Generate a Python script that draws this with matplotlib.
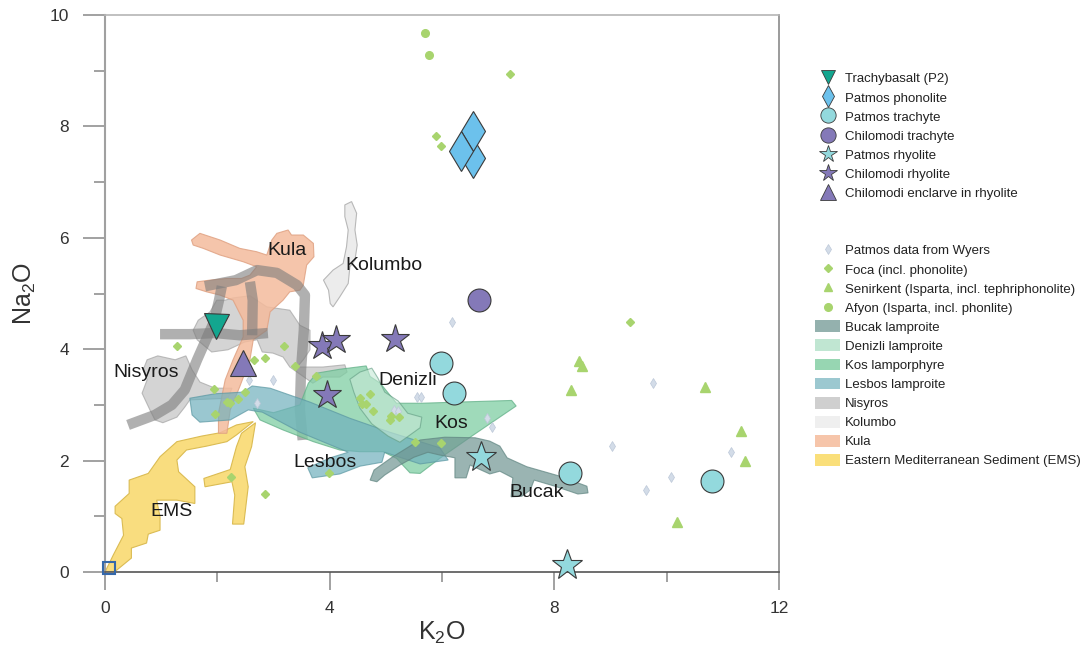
import numpy as np
import matplotlib.pyplot as plt
from matplotlib.lines import Line2D
from matplotlib.patches import Patch

plt.rcParams["font.family"] = ["Liberation Sans", "DejaVu Sans"]

# ---- samples (K2O, Na2O) ----
trachybasalt_k = [1.98]
trachybasalt_na = [4.42]
phonolite_k = [6.55, 6.55, 6.33]
phonolite_na = [7.43, 7.92, 7.55]
patmos_trachyte_k = [5.98, 6.22, 8.28, 10.81]
patmos_trachyte_na = [3.76, 3.22, 1.78, 1.64]
chilo_trachyte_k = [6.65]
chilo_trachyte_na = [4.88]
patmos_rhyolite_k = [6.69, 8.22]
patmos_rhyolite_na = [2.06, 0.13]
chilo_rhyolite_k = [3.86, 4.12, 5.16, 3.96]
chilo_rhyolite_na = [4.06, 4.16, 4.18, 3.18]
enclave_k = [2.45]
enclave_na = [3.75]
square_k = [0.08]
square_na = [0.08]

wyers_k = [9.75, 9.03, 11.14, 10.08, 9.64, 6.18, 5.56, 5.62, 5.14, 5.22, 6.80, 6.89, 2.57, 2.99, 2.70]
wyers_na = [3.39, 2.26, 2.16, 1.70, 1.48, 4.48, 3.14, 3.14, 2.91, 2.89, 2.77, 2.61, 3.45, 3.45, 3.03]
foca_k = [7.21, 5.89, 5.99, 9.35, 1.28, 2.65, 2.85, 3.19, 3.38, 3.76, 1.94, 2.17, 2.23, 2.36, 2.49,
          1.96, 2.24, 2.85, 4.54, 4.72, 4.57, 4.65, 4.77, 5.10, 5.07, 5.24, 5.52, 5.98, 3.98]
foca_na = [8.94, 7.83, 7.64, 4.48, 4.05, 3.81, 3.85, 4.06, 3.70, 3.51, 3.28, 3.06, 3.03, 3.10, 3.24,
           2.84, 1.71, 1.40, 3.12, 3.19, 3.01, 3.01, 2.89, 2.80, 2.73, 2.79, 2.34, 2.31, 1.77]
senirkent_k = [8.44, 8.50, 8.29, 10.69, 11.33, 11.40, 10.18]
senirkent_na = [3.78, 3.69, 3.27, 3.33, 2.53, 2.00, 0.89]
afyon_k = [5.70, 5.77]
afyon_na = [9.68, 9.28]

# ---- fields (outline vertices, K2O / Na2O) ----
ems_k = [0.00, 0.15, 0.33, 0.30, 0.18, 0.18, 0.43, 0.43, 0.77, 0.98, 1.28, 1.72, 2.05, 2.34, 2.64,
         2.34, 2.17, 1.81, 1.45, 1.28, 1.31, 1.60, 1.60, 1.28, 0.92, 0.98, 0.98, 0.77, 0.74, 0.47,
         0.47, 0.18]
ems_na = [0.00, 0.31, 0.66, 0.96, 1.05, 1.18, 1.41, 1.65, 1.77, 2.07, 2.34, 2.44, 2.50, 2.64, 2.70,
          2.46, 2.34, 2.26, 2.19, 2.01, 1.80, 1.53, 1.23, 1.29, 1.29, 0.99, 0.75, 0.68, 0.52, 0.43,
          0.25, 0.01]
ems2_k = [2.68, 2.61, 2.49, 2.55, 2.47, 2.27, 2.31, 2.26, 1.78, 1.76, 2.23, 2.34, 2.43]
ems2_na = [2.68, 2.25, 1.89, 1.53, 0.86, 0.86, 1.38, 1.62, 1.53, 1.68, 1.84, 2.25, 2.49]

kos_k = [2.64, 3.00, 3.47, 3.62, 3.77, 4.18, 4.65, 4.72, 4.90, 5.19, 5.64, 7.24, 7.32, 6.56, 5.96,
         5.61, 5.43, 5.19, 4.95, 4.54, 4.18, 3.71, 3.17, 2.76]
kos_na = [2.94, 2.86, 3.00, 3.39, 3.57, 3.64, 3.70, 3.51, 3.39, 3.03, 3.03, 3.08, 2.98, 2.46, 2.04,
          1.77, 1.78, 2.04, 2.16, 2.16, 2.19, 2.34, 2.55, 2.73]

denizli_k = [4.36, 4.54, 4.75, 4.86, 4.98, 5.22, 5.39, 5.64, 5.61, 5.25, 5.04, 4.75, 4.54, 4.43]
denizli_na = [3.46, 3.59, 3.66, 3.48, 3.23, 3.07, 2.85, 2.78, 2.59, 2.33, 2.44, 2.66, 2.94, 3.23]

lesbos_k = [1.51, 1.96, 2.46, 2.62, 2.94, 3.65, 4.36, 5.07, 5.96, 6.11, 5.61, 4.98, 4.93, 4.54,
            4.18, 3.69, 3.61, 4.01, 4.33, 3.47, 2.80, 2.55, 2.23, 1.69, 1.55]
lesbos_na = [3.12, 3.20, 3.23, 3.34, 3.30, 3.05, 2.76, 2.51, 2.23, 2.01, 1.94, 2.15, 1.97, 1.90,
             1.76, 1.69, 1.87, 2.05, 2.15, 2.51, 2.87, 2.91, 2.73, 2.69, 2.82]

bucak_k = [4.72, 4.79, 5.11, 5.43, 5.61, 6.05, 6.59, 6.85, 7.03, 7.16, 7.51, 8.10, 8.58, 8.60, 8.42,
           8.01, 7.64, 7.57, 7.42, 7.23, 7.26, 7.03, 6.85, 6.50, 6.43, 6.23, 6.23, 5.96, 5.75, 5.50,
           5.25, 4.98, 4.84]
bucak_na = [1.65, 1.83, 2.06, 2.26, 2.37, 2.42, 2.41, 2.35, 2.26, 2.05, 1.89, 1.72, 1.54, 1.42, 1.40,
            1.54, 1.65, 1.47, 1.36, 1.35, 1.69, 1.81, 1.76, 1.92, 1.69, 1.69, 2.05, 2.10, 2.15, 2.06,
            1.92, 1.74, 1.62]

kolumbo_k = [4.27, 4.39, 4.48, 4.45, 4.49, 4.45, 4.36, 4.33, 4.18, 4.06, 4.01, 3.98, 3.89, 4.06,
             4.24, 4.30, 4.33, 4.27]
kolumbo_na = [6.59, 6.65, 6.44, 6.14, 5.87, 5.60, 5.48, 5.18, 4.94, 4.76, 4.82, 5.06, 5.24, 5.42,
              5.54, 5.84, 6.14, 6.38]

kula_k = [1.54, 1.69, 2.05, 2.40, 2.70, 2.88, 2.97, 3.06, 3.26, 3.32, 3.53, 3.71, 3.72, 3.59, 3.53,
          3.47, 3.29, 3.17, 2.94, 2.88, 2.64, 2.58, 2.40, 2.23, 2.17, 2.02, 2.02, 2.14, 2.28, 2.46,
          2.46, 2.37, 2.28, 2.05, 1.81, 1.62, 1.64, 1.87, 2.17, 2.43, 2.58, 2.70, 2.46, 2.05, 1.75,
          1.57]
kula_na = [5.96, 6.08, 5.96, 5.81, 5.75, 5.69, 5.96, 6.08, 6.14, 6.05, 6.05, 5.90, 5.66, 5.51, 5.15,
           5.06, 5.03, 4.88, 4.67, 4.34, 4.17, 3.81, 3.33, 2.91, 2.49, 2.49, 2.85, 3.45, 3.81, 4.22,
           4.52, 4.70, 4.88, 4.97, 5.03, 5.09, 5.21, 5.24, 5.27, 5.27, 5.33, 5.48, 5.57, 5.69, 5.81,
           5.87]

nisyros_a_k = [0.68, 0.75, 0.94, 1.25, 1.44, 1.55, 1.69, 1.96, 2.26, 2.19, 1.51, 1.42, 1.28, 1.03,
               0.89, 0.80, 0.66, 0.75]
nisyros_a_na = [3.63, 3.81, 3.88, 3.81, 3.88, 3.63, 3.41, 3.30, 3.30, 3.12, 3.09, 2.96, 2.78, 2.68,
                2.73, 2.91, 3.21, 3.45]
nisyros_b_k = [1.57, 1.66, 1.87, 1.99, 2.14, 2.28, 2.58, 2.88, 3.29, 3.47, 3.65, 3.65, 3.53, 3.42,
               3.88, 4.27, 4.31, 4.18, 3.88, 3.70, 3.29, 3.17, 2.99, 2.80, 2.71, 2.49, 2.19, 1.90,
               1.64]
nisyros_b_na = [4.34, 4.52, 4.67, 4.88, 4.88, 4.92, 4.96, 4.76, 4.70, 4.43, 4.34, 3.99, 3.81, 3.68,
                3.68, 3.72, 3.59, 3.50, 3.50, 3.39, 3.68, 3.86, 3.93, 3.95, 4.17, 4.13, 3.99, 3.95,
                4.17]

# darker grey traces (no legend entry)
band_a_k = [0.41, 0.89, 1.19, 1.42, 1.64, 1.82, 1.94, 2.03, 2.08]
band_a_na = [2.64, 2.82, 3.00, 3.27, 3.81, 4.22, 4.49, 4.88, 5.13]
band_b_k = [0.98, 1.51, 1.96, 2.40, 2.90]
band_b_na = [4.27, 4.27, 4.29, 4.25, 4.29]
band_c_k = [1.78, 2.33, 2.71, 3.06, 3.42, 3.56, 3.54, 3.49, 3.47, 3.52]
band_c_na = [5.13, 5.24, 5.42, 5.37, 5.15, 4.97, 4.34, 3.63, 2.91, 2.37]
band_d_k = [2.58, 2.63, 2.62]
band_d_na = [5.21, 4.88, 4.25]

field_labels = ["Kula", "Kolumbo", "Nisyros", "Denizli", "Kos", "Lesbos", "Bucak", "EMS"]
field_label_k = [3.24, 4.97, 0.73, 5.39, 6.16, 3.92, 7.69, 1.19]
field_label_na = [5.78, 5.51, 3.59, 3.43, 2.66, 1.97, 1.42, 1.08]

# colours
c_teal = "#13a68f"
c_phon = "#6cc1ec"
c_cyan = "#93d9dd"
c_purple = "#8479b8"
c_green = "#a8d46e"
c_wyers = "#d3dce8"
edge = "#3a3a3a"

fields = [
    # name, k, na, face, edgecolor, alpha, zorder
    ("EMS", ems_k, ems_na, "#f9dc78", "#d9b94e", 0.95, 1),
    ("EMS", ems2_k, ems2_na, "#f9dc78", "#d9b94e", 0.95, 1),
    ("Nisyros", nisyros_a_k, nisyros_a_na, "#c6c6c6", "#a8a8a8", 0.75, 2),
    ("Nisyros", nisyros_b_k, nisyros_b_na, "#c6c6c6", "#a8a8a8", 0.75, 2),
    ("Kula", kula_k, kula_na, "#f4bb9c", "#e0a283", 0.85, 3),
    ("Kolumbo", kolumbo_k, kolumbo_na, "#ececec", "#b8b8b8", 1.0, 4),
    ("Kos", kos_k, kos_na, "#7fcea3", "#62b088", 0.75, 5),
    ("Lesbos", lesbos_k, lesbos_na, "#6fb0bc", "#5a97a2", 0.7, 6),
    ("Denizli", denizli_k, denizli_na, "#c6e9d6", "#5f9a80", 0.6, 7),
    ("Bucak", bucak_k, bucak_na, "#6f9592", "#5f8480", 0.7, 8),
]


def main():
    fig = plt.figure(figsize=(10.87, 6.52), dpi=100)
    ax = fig.add_axes([105 / 1087, 80 / 652, 674 / 1087, 557 / 652])

    for name, k, na, fc, ec, a, z in fields:
        ax.fill(k, na, facecolor=fc, edgecolor=ec, alpha=a, lw=0.8, zorder=z)

    for bk, bn in [(band_a_k, band_a_na), (band_b_k, band_b_na),
                   (band_c_k, band_c_na), (band_d_k, band_d_na)]:
        ax.plot(bk, bn, color="#7c7c7c", lw=7.5, alpha=0.6, solid_capstyle="butt",
                solid_joinstyle="round", zorder=3.5)

    # small literature points
    ax.plot(wyers_k, wyers_na, ls="", marker="d", ms=5, mfc=c_wyers, mec="#bcc8d8",
            mew=0.5, zorder=10)
    ax.plot(foca_k, foca_na, ls="", marker="D", ms=4.3, mfc=c_green, mec=c_green, zorder=10)
    ax.plot(senirkent_k, senirkent_na, ls="", marker="^", ms=6.5, mfc=c_green, mec=c_green,
            zorder=10)
    ax.plot(afyon_k, afyon_na, ls="", marker="o", ms=5.5, mfc=c_green, mec=c_green, zorder=10)

    for lab, k, na in zip(field_labels, field_label_k, field_label_na):
        ax.text(k, na, lab, fontsize=14, ha="center", va="center", zorder=11, color="#1a1a1a")

    # this study
    big = dict(ls="", mec=edge, mew=0.8, zorder=12, clip_on=False)
    ax.plot(square_k, square_na, ls="", marker="s", ms=8, mfc="none", mec="#3568aa",
            mew=1.5, zorder=12, clip_on=False)
    ax.plot(trachybasalt_k, trachybasalt_na, marker="v", ms=18, mfc=c_teal, **big)
    for k, na in zip(phonolite_k, phonolite_na):
        ax.plot(k, na, marker="d", ms=20, mfc=c_phon, **big)
    ax.plot(patmos_trachyte_k, patmos_trachyte_na, marker="o", ms=16.5, mfc=c_cyan, **big)
    ax.plot(chilo_trachyte_k, chilo_trachyte_na, marker="o", ms=16.5, mfc=c_purple, **big)
    ax.plot(patmos_rhyolite_k, patmos_rhyolite_na, marker="*", ms=23, mfc=c_cyan, **big)
    ax.plot(chilo_rhyolite_k, chilo_rhyolite_na, marker="*", ms=21, mfc=c_purple, **big)
    ax.plot(enclave_k, enclave_na, marker="^", ms=19, mfc=c_purple, **big)

    # axes
    ax.set_xlim(0, 12)
    ax.set_ylim(0, 10)
    ax.set_xticks([0, 4, 8, 12])
    ax.set_xticks([2, 6, 10], minor=True)
    ax.set_yticks([0, 2, 4, 6, 8, 10])
    ax.set_yticks([1, 3, 5, 7, 9], minor=True)
    ax.tick_params(axis="x", which="major", direction="out", length=13, width=1.1,
                   color="#888888", labelsize=12.5, pad=8, labelcolor="#333333")
    ax.tick_params(axis="x", which="minor", direction="out", length=7, width=1.1,
                   color="#888888")
    ax.tick_params(axis="y", which="major", direction="out", length=16, width=1.1,
                   color="#888888", labelsize=12.5, pad=10, labelcolor="#333333")
    ax.tick_params(axis="y", which="minor", direction="out", length=8, width=1.1,
                   color="#888888")
    ax.spines["top"].set_color("#b5b5b5")
    ax.spines["right"].set_color("#8a8a8a")
    ax.spines["left"].set_color("#a0a0a0")
    ax.spines["bottom"].set_color("#555555")
    ax.spines["left"].set_linewidth(1.5)
    ax.spines["right"].set_linewidth(1.2)
    ax.spines["bottom"].set_linewidth(1.2)
    ax.spines["top"].set_linewidth(1.2)

    ax.set_xlabel(r"K$_\mathregular{2}$O", fontsize=18, color="#333333")
    ax.set_ylabel(r"Na$_\mathregular{2}$O", fontsize=18, color="#333333")
    ax.xaxis.set_label_coords(0.5, -0.085)
    ax.yaxis.set_label_coords(-0.10, 0.5)

    # legends
    h1 = [
        Line2D([], [], ls="", marker="v", ms=10, mfc=c_teal, mec=edge, mew=0.6),
        Line2D([], [], ls="", marker="d", ms=11, mfc=c_phon, mec=edge, mew=0.6),
        Line2D([], [], ls="", marker="o", ms=11, mfc=c_cyan, mec=edge, mew=0.6),
        Line2D([], [], ls="", marker="o", ms=11, mfc=c_purple, mec=edge, mew=0.6),
        Line2D([], [], ls="", marker="*", ms=13, mfc=c_cyan, mec=edge, mew=0.6),
        Line2D([], [], ls="", marker="*", ms=13, mfc=c_purple, mec=edge, mew=0.6),
        Line2D([], [], ls="", marker="^", ms=11, mfc=c_purple, mec=edge, mew=0.6),
    ]
    l1 = ["Trachybasalt (P2)", "Patmos phonolite", "Patmos trachyte", "Chilomodi trachyte",
          "Patmos rhyolite", "Chilomodi rhyolite", "Chilomodi enclarve in rhyolite"]
    h2 = [
        Line2D([], [], ls="", marker="d", ms=5, mfc=c_wyers, mec="#bcc8d8", mew=0.5),
        Line2D([], [], ls="", marker="D", ms=4.3, mfc=c_green, mec=c_green),
        Line2D([], [], ls="", marker="^", ms=6, mfc=c_green, mec=c_green),
        Line2D([], [], ls="", marker="o", ms=5.5, mfc=c_green, mec=c_green),
        Patch(facecolor="#94b1ae", edgecolor="none"),
        Patch(facecolor="#c0e6d2", edgecolor="none"),
        Patch(facecolor="#97d6b2", edgecolor="none"),
        Patch(facecolor="#9cc8d0", edgecolor="none"),
        Patch(facecolor="#cfcfcf", edgecolor="none"),
        Patch(facecolor="#efefef", edgecolor="none"),
        Patch(facecolor="#f6c5aa", edgecolor="none"),
        Patch(facecolor="#fadf7a", edgecolor="none"),
    ]
    l2 = ["Patmos data from Wyers", "Foca (incl. phonolite)",
          "Senirkent (Isparta, incl. tephriphonolite)", "Afyon (Isparta, incl. phonlite)",
          "Bucak lamproite", "Denizli lamproite", "Kos lamporphyre", "Lesbos lamproite",
          "Nisyros", "Kolumbo", "Kula", "Eastern Mediterranean Sediment (EMS)"]
    opts = dict(frameon=False, fontsize=9.5, handlelength=1.9, handleheight=1.0,
                handletextpad=0.35, labelspacing=0.43, borderpad=0, borderaxespad=0,
                loc="upper left", bbox_transform=fig.transFigure, labelcolor="#222222")
    leg1 = ax.legend(h1, l1, bbox_to_anchor=(815 / 1087, 1 - 72 / 652), **opts)
    ax.add_artist(leg1)
    ax.legend(h2, l2, bbox_to_anchor=(815 / 1087, 1 - 244 / 652), **opts)

    fig.savefig("out.png", dpi=100)
    plt.close(fig)


if __name__ == "__main__":
    main()
